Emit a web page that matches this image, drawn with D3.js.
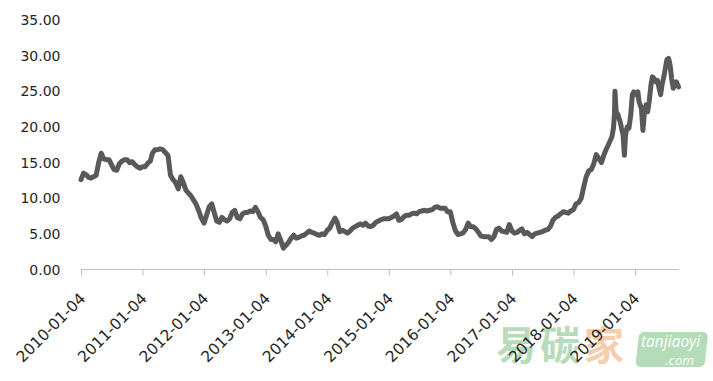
<!DOCTYPE html>
<html>
<head>
<meta charset="utf-8">
<script src="https://cdn.jsdelivr.net/npm/d3@7"></script>
<style>
  html, body { margin: 0; padding: 0; background: #ffffff; }
  svg { display: block; }
</style>
</head>
<body>
<svg id="chart" width="713" height="381"></svg>
<script>
// ---- data: semi-monthly readings 2010 to mid-2018 ----
const halfMonths = ["01-04","01-19","02-04","02-19","03-04","03-19","04-04","04-19","05-04","05-19","06-04","06-19",
                    "07-04","07-19","08-04","08-19","09-04","09-19","10-04","10-19","11-04","11-19","12-04","12-19"];
const v2010 = [12.6,13.5,13.3,12.9,12.8,13.0,13.2,15.0,16.3,15.5,15.4,15.4,14.7,14.0,13.9,14.8,15.2,15.4,15.4,15.0,15.1,14.7,14.4,14.2];
const v2011 = [14.4,14.4,14.9,15.2,16.3,16.8,16.8,16.9,16.8,16.4,16.0,13.2,12.6,12.2,11.3,13.0,12.1,11.1,10.7,10.3,9.7,9.1,8.2,7.2];
const v2012 = [6.5,7.6,8.8,9.2,8.0,6.8,6.6,7.3,7.0,6.8,7.1,8.0,8.3,7.3,7.1,7.8,8.0,8.0,8.2,8.1,8.7,8.1,7.3,7.0];
const v2013 = [6.1,4.8,4.2,4.2,3.9,5.0,4.0,3.0,3.4,3.8,4.4,4.8,4.4,4.5,4.7,4.8,5.1,5.4,5.2,5.1,4.9,4.8,5.0,4.9];
const v2014 = [5.5,5.8,6.6,7.2,6.6,5.3,5.5,5.3,5.1,5.4,5.8,6.0,6.2,6.4,6.2,6.5,6.1,6.0,6.2,6.6,6.8,7.0,7.1,7.1];
const v2015 = [7.1,7.3,7.5,7.8,6.9,7.0,7.4,7.6,7.6,7.8,7.9,7.8,8.1,8.2,8.3,8.2,8.3,8.4,8.7,8.8,8.6,8.6,8.6,8.1];
const v2016 = [8.1,6.6,5.4,4.9,5.0,5.1,5.6,6.5,6.0,6.0,5.7,5.2,4.7,4.6,4.6,4.6,4.2,4.6,5.6,5.8,5.4,5.3,5.2,6.3];
const v2017 = [5.4,5.1,5.2,5.5,5.7,5.0,5.2,4.9,4.6,5.0,5.1,5.2,5.3,5.5,5.6,6.0,6.9,7.3,7.5,7.8,8.1,8.0,7.9,8.2];
const v2018 = [8.4,9.2,9.4,10.0,11.4,12.9,13.8,14.0,14.8,16.1,15.5,15.0];
const years = [2010,2011,2012,2013,2014,2015,2016,2017,2018];
const yearValues = [v2010,v2011,v2012,v2013,v2014,v2015,v2016,v2017,v2018];

// ---- denser readings for the volatile stretch, Jul 2018 to Sep 2019 ----
const detailDates = ["2018-07-04","2018-07-20","2018-08-03","2018-08-20","2018-08-29","2018-09-04","2018-09-07","2018-09-14",
  "2018-09-25","2018-10-09","2018-10-16","2018-10-25","2018-11-02","2018-11-09","2018-11-19","2018-11-29","2018-12-10",
  "2018-12-19","2018-12-28","2019-01-08","2019-01-21","2019-01-28","2019-02-11","2019-02-20","2019-03-01","2019-03-11",
  "2019-03-20","2019-03-29","2019-04-09","2019-04-17","2019-04-26","2019-05-08","2019-05-17","2019-05-27","2019-06-05",
  "2019-06-14","2019-06-24","2019-07-03","2019-07-12","2019-07-22","2019-07-31","2019-08-09","2019-08-19","2019-08-28",
  "2019-09-06","2019-09-19"];
const detailValues = [16.1,17.0,17.7,18.6,19.8,21.7,25.0,22.1,
  21.7,20.6,19.8,18.9,16.0,18.9,20.0,19.8,21.7,
  24.5,24.9,24.5,24.9,23.5,22.6,19.5,22.1,23.1,
  22.1,23.5,25.9,27.0,26.8,26.3,26.5,25.4,24.5,
  26.0,27.0,28.2,29.4,29.6,28.7,26.8,25.4,25.9,
  26.3,25.6];

const tickLabels = ["2010-01-04","2011-01-04","2012-01-04","2013-01-04","2014-01-04",
                    "2015-01-04","2016-01-04","2017-01-04","2018-01-04","2019-01-04"];
const yTicks = [0,5,10,15,20,25,30,35];

// ---- build series ----
const parse = d3.timeParse("%Y-%m-%d");
const series = [];
years.forEach((yr, i) => {
  yearValues[i].forEach((v, j) => series.push({ date: parse(yr + "-" + halfMonths[j]), value: v }));
});
detailDates.forEach((d, i) => series.push({ date: parse(d), value: detailValues[i] }));

const svg = d3.select("#chart");
const x = d3.scaleTime()
  .domain([series[0].date, series[series.length - 1].date])
  .range([81, 678.5]);
const y = d3.scaleLinear().domain([0, 35]).range([269.5, 19.8]);

const textColor = "#262626";

// watermark (drawn first, behind the chart text)
const wm = svg.append("g");
const cjk = [["易", 496, "#b7dcb9"], ["碳", 540, "#b7dcb9"], ["家", 584, "#f6ceac"]];
wm.selectAll("text.cjk").data(cjk).join("text")
  .attr("class", "cjk")
  .attr("x", d => d[1]).attr("y", 360)
  .attr("font-family", "Noto Sans CJK SC")
  .attr("font-weight", "bold")
  .attr("font-size", 40)
  .attr("fill", d => d[2])
  .text(d => d[0]);
wm.append("rect")
  .attr("x", 638).attr("y", 332).attr("width", 69).attr("height", 35).attr("rx", 5)
  .attr("transform", "skewX(-6) translate(36,0)")
  .attr("fill", "#b5dcb9");
wm.append("text").attr("x", 641).attr("y", 347)
  .attr("font-family", "Open Sans").attr("font-style", "italic")
  .attr("font-size", 15.5).attr("fill", "#ffffff").text("tanjiaoyi");
wm.append("text").attr("x", 694).attr("y", 365).attr("text-anchor", "end")
  .attr("font-family", "Open Sans").attr("font-style", "italic")
  .attr("font-size", 13.5).attr("fill", "#ffffff").text(".com");

// y labels
svg.append("g").selectAll("text").data(yTicks).join("text")
  .attr("x", 60.5)
  .attr("y", d => y(d))
  .attr("dy", "0.36em")
  .attr("text-anchor", "end")
  .attr("font-family", "DejaVu Sans, sans-serif")
  .attr("font-size", 14)
  .attr("fill", textColor)
  .text(d3.format(".2f"));

// x axis
const xAxis = d3.axisBottom(x)
  .tickValues(tickLabels.map(parse))
  .tickSize(6)
  .tickFormat(d3.timeFormat("%Y-%m-%d"));
const gx = svg.append("g").attr("transform", "translate(0,269.5)").call(xAxis);
gx.select(".domain").attr("stroke", "#bfbfbf").attr("d", "M81,0H678.5");
gx.selectAll(".tick line").attr("stroke", "#bfbfbf");
gx.selectAll(".tick text")
  .attr("font-family", "DejaVu Sans, sans-serif")
  .attr("font-size", 15.5)
  .attr("fill", textColor)
  .attr("text-anchor", "end")
  .attr("y", 0).attr("dy", "0.36em")
  .attr("transform", "translate(1,26) rotate(-45)");

// line
svg.append("path")
  .datum(series)
  .attr("fill", "none")
  .attr("stroke", "#595959")
  .attr("stroke-width", 5)
  .attr("stroke-linejoin", "round")
  .attr("stroke-linecap", "round")
  .attr("d", d3.line().x(d => x(d.date)).y(d => y(d.value)));
</script>
</body>
</html>
